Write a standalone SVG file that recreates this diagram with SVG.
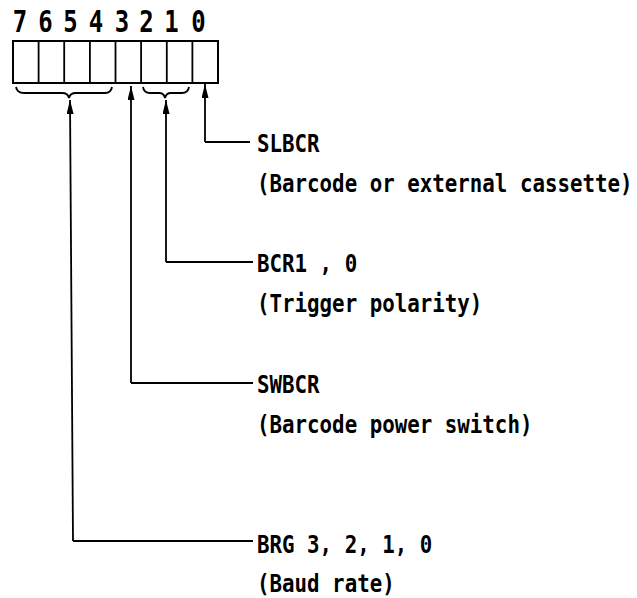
<svg xmlns="http://www.w3.org/2000/svg" width="637" height="598" viewBox="0 0 637 598">
<defs>
<style>
.t{font-family:"DejaVu Sans Mono","Liberation Mono",monospace;font-weight:bold;font-size:20.8px;fill:#000}
.d{font-family:"DejaVu Sans Mono","Liberation Mono",monospace;font-weight:bold;font-size:24px;fill:#000;text-anchor:middle}
.ln{fill:none;stroke:#000;stroke-width:1.8}
.reg{fill:#fff;stroke:#000;stroke-width:2}
</style>
<marker id="ah" viewBox="0 0 14 7" refX="14" refY="3.5" markerWidth="14" markerHeight="7" markerUnits="userSpaceOnUse" orient="auto">
<path d="M0,0 L14,3.5 L0,7 Z" fill="#000"/>
</marker>
</defs>
<rect width="637" height="598" fill="#fff"/>
<g id="register">
<g id="bitnumbers">
<text class="d" transform="translate(20,32) scale(1,1.25)">7</text>
<text class="d" transform="translate(45.5,32) scale(1,1.25)">6</text>
<text class="d" transform="translate(70.5,32) scale(1,1.25)">5</text>
<text class="d" transform="translate(96,32) scale(1,1.25)">4</text>
<text class="d" transform="translate(122,32) scale(1,1.25)">3</text>
<text class="d" transform="translate(146.5,32) scale(1,1.25)">2</text>
<text class="d" transform="translate(171.5,32) scale(1,1.25)">1</text>
<text class="d" transform="translate(198.5,32) scale(1,1.25)">0</text>
</g>
<rect class="reg" x="13" y="41" width="205" height="42"/>
<path class="ln" d="M38.6,41V83M64.2,41V83M89.9,41V83M115.5,41V83M141.1,41V83M166.8,41V83M192.4,41V83" stroke-width="2"/>
<path id="brace74" class="ln" d="M16,87 Q17,93 24,93 L62,93 Q68,93 69,98 Q70,93 76,93 L105,93 Q111,93 112,87"/>
<path id="brace21" class="ln" d="M143,87 Q144,93 150,93 L159,93 Q164,93 165,98 Q166,93 171,93 L182,93 Q188,93 189,87"/>
</g>
<g id="connectors">
<path class="ln" d="M205,142 L205,84" marker-end="url(#ah)"/>
<path class="ln" d="M250,142 H205"/>
<path class="ln" d="M166,262 L166,100" marker-end="url(#ah)"/>
<path class="ln" d="M253,262 H166"/>
<path class="ln" d="M131,383 L131,86" marker-end="url(#ah)"/>
<path class="ln" d="M253,383 H131"/>
<path class="ln" d="M73,541 L70,100" marker-end="url(#ah)"/>
<path class="ln" d="M253,541 H73"/>
</g>
<g id="slbcr">
<text class="t" transform="translate(257,152) scale(1,1.2)">SLBCR</text>
<text class="t" transform="translate(257,192) scale(1,1.2)">(Barcode or external cassette)</text>
</g>
<g id="bcr">
<text class="t" transform="translate(257,272) scale(1,1.2)">BCR1 , 0</text>
<text class="t" transform="translate(257,312) scale(1,1.2)">(Trigger polarity)</text>
</g>
<g id="swbcr">
<text class="t" transform="translate(257,393) scale(1,1.2)">SWBCR</text>
<text class="t" transform="translate(257,433) scale(1,1.2)">(Barcode power switch)</text>
</g>
<g id="brg">
<text class="t" transform="translate(257,553) scale(1,1.2)">BRG 3, 2, 1, 0</text>
<text class="t" transform="translate(257,592) scale(1,1.2)">(Baud rate)</text>
</g>
</svg>
